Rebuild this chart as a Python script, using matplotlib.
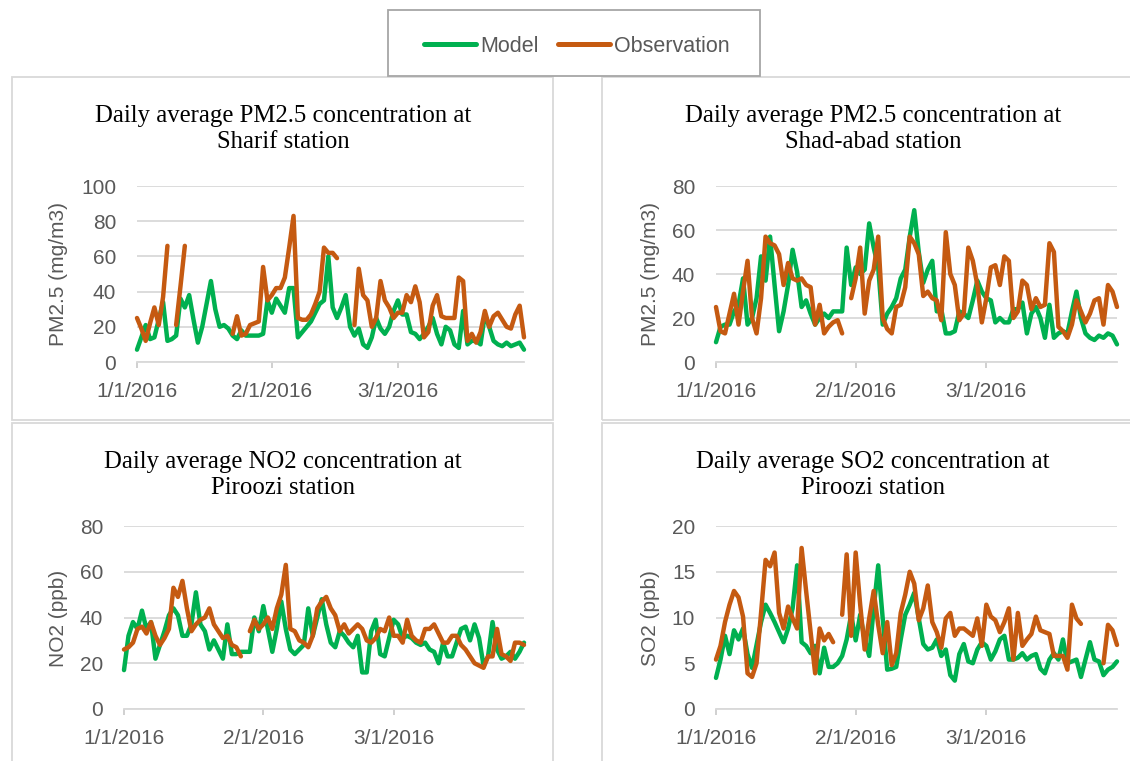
import numpy as np
import pandas as pd
import matplotlib
matplotlib.use("Agg")
import matplotlib.pyplot as plt
from matplotlib.patches import Rectangle
from matplotlib.lines import Line2D

nan = np.nan

# dias 1/1/2016 .. 3/30/2016
dates = pd.date_range("2016-01-01", periods=90, freq="D")
tick_dates = pd.to_datetime(["2016-01-01", "2016-02-01", "2016-03-01"])
tick_labels = ["1/1/2016", "2/1/2016", "3/1/2016"]

# PM2.5 Sharif
sharif_model = [7, 14, 21, 13, 14, 24, 34, 12, 13, 15,
                36, 31, 38, 24, 11, 20, 33, 46, 30, 20,
                21, 19, 15, 13, 18, 15, 15, 15, 15, 16,
                35, 28, 36, 32, 28, 42, 42, 14, 17, 20,
                23, 28, 33, 35, 60, 31, 25, 31, 38, 20,
                15, 19, 10, 8, 14, 25, 19, 16, 20, 29,
                35, 27, 27, 17, 16, 13, 16, 20, 25, 16,
                10, 20, 18, 10, 8, 29, 10, 12, 12, 10,
                27, 20, 12, 10, 9, 11, 9, 10, 11, 7]
sharif_obs = [25, 19, 12, 22, 31, 21, 37, 66, nan, 21,
              43, 66, nan, nan, nan, nan, nan, nan, nan, nan,
              nan, nan, 16, 26, 15, 16, 21, 22, 23, 54,
              35, 38, 42, 42, 48, 65, 83, 25, 24, 24,
              27, 33, 40, 65, 62, 62, 59, nan, nan, nan,
              21, 53, 38, 35, 20, 25, 46, 35, 31, 25,
              28, 28, 38, 34, 43, 34, 14, 17, 32, 38,
              26, 25, 25, 25, 48, 46, 12, 16, 11, 17,
              29, 20, 26, 28, 24, 20, 19, 27, 32, 14]

# PM2.5 Shad-abad
shad_model = [9, 16, 17, 17, 23, 26, 38, 17, 20, 29,
              48, 37, 57, 35, 14, 23, 35, 51, 41, 25,
              28, 22, 17, 20, 22, 20, 23, 23, 23, 52,
              35, 43, 40, 42, 63, 52, 43, 17, 22, 25,
              29, 38, 42, 57, 69, 50, 36, 42, 46, 23,
              24, 13, 13, 14, 23, 22, 20, 28, 37, 32,
              29, 28, 18, 20, 18, 18, 24, 24, 27, 13,
              22, 25, 20, 11, 26, 11, 13, 14, 13, 23,
              32, 20, 13, 11, 10, 12, 11, 13, 12, 8]
shad_obs = [25, 14, 13, 22, 31, 17, 32, 46, 20, 13,
            29, 57, 54, 53, 49, 35, 45, 38, 37, 38,
            35, 34, 17, 26, 13, 16, 18, 19, 13, nan,
            29, 38, 52, 22, 37, 42, 57, 20, 15, 13,
            25, 26, 34, 57, 54, 49, 30, 32, 29, 28,
            19, 59, 40, 35, 19, 22, 52, 46, 35, 18,
            29, 43, 44, 35, 48, 46, 20, 23, 37, 35,
            24, 29, 25, 26, 54, 50, 16, 14, 11, 17,
            28, 23, 18, 22, 28, 29, 17, 35, 32, 25]

# NO2 Piroozi
no2_model = [17, 32, 38, 35, 43, 35, 38, 22, 28, 34,
             41, 44, 41, 32, 32, 37, 51, 37, 34, 26,
             30, 26, 22, 37, 24, 24, 25, 25, 25, 40,
             34, 45, 35, 25, 35, 47, 35, 26, 24, 26,
             28, 44, 32, 40, 48, 37, 29, 27, 34, 32,
             29, 27, 32, 16, 16, 34, 39, 24, 23, 31,
             39, 37, 31, 32, 31, 29, 28, 29, 26, 25,
             20, 29, 23, 23, 29, 35, 36, 30, 37, 31,
             19, 23, 38, 26, 22, 23, 25, 22, 25, 29]
no2_obs = [26, 27, 29, 35, 36, 33, 38, 32, 28, 31,
           35, 53, 49, 56, 44, 34, 37, 39, 40, 44,
           37, 34, 31, 32, 28, 27, 23, nan, 34, 39,
           35, 37, 40, 35, 44, 50, 63, 35, 34, 30,
           29, 27, 32, 44, 47, 49, 44, 41, 34, 37,
           33, 35, 37, 35, 30, 29, 31, 35, 34, 40,
           32, 32, 29, 39, 32, 30, 29, 35, 35, 37,
           33, 29, 29, 32, 32, 28, 26, 23, 20, 19,
           18, 23, 23, 35, 24, 23, 21, 29, 29, 28]

# SO2 Piroozi
so2_model = [3.4, 5.4, 8.0, 6.0, 8.6, 7.6, 8.8, 6.0, 4.5, 7.0,
             9.5, 11.4, 10.5, 9.5, 8.4, 7.3, 8.8, 11.0, 15.7, 7.3,
             6.9, 6.1, 6.9, 3.9, 6.7, 4.6, 4.6, 5.0, 5.8, 7.6,
             10.3, 7.5, 10.3, 7.6, 5.8, 11.0, 15.7, 9.9, 4.3, 4.4,
             4.6, 7.6, 10.3, 11.4, 12.7, 9.9, 7.1, 6.5, 6.7, 7.6,
             5.8, 6.5, 3.7, 3.1, 6.0, 7.1, 5.2, 5.0, 6.5, 7.3,
             6.9, 5.4, 6.3, 7.6, 8.0, 5.4, 5.4, 5.6, 6.1, 5.4,
             5.8, 6.0, 4.4, 3.9, 5.4, 6.1, 5.4, 7.6, 5.0, 5.2,
             5.4, 3.5, 5.4, 7.3, 5.4, 5.2, 3.7, 4.3, 4.6, 5.2]
so2_obs = [5.4, 6.9, 9.5, 11.4, 12.9, 12.2, 10.1, 3.9, 3.5, 5.0,
           10.5, 16.3, 15.6, 17.1, 10.5, 8.8, 11.2, 9.9, 8.8, 17.6,
           12.9, 8.4, 3.9, 8.8, 7.5, 8.2, 7.3, nan, 10.3, 16.9,
           8.0, 17.1, 11.4, 6.5, 9.9, 12.9, 9.2, 6.1, 9.5, 4.8,
           6.1, 10.5, 12.5, 15.0, 13.7, 9.7, 11.0, 13.5, 9.5, 8.4,
           6.7, 9.9, 10.5, 8.0, 8.8, 8.8, 8.4, 8.0, 9.9, 6.9,
           11.4, 10.1, 9.7, 8.4, 9.5, 11.0, 5.4, 10.5, 6.9, 7.6,
           8.2, 10.1, 8.6, 8.4, 8.2, 5.8, 5.8, 5.8, 4.3, 11.4,
           9.9, 9.3, nan, nan, nan, nan, 5.0, 9.2, 8.6, 7.0]

titles = ["Daily average PM2.5 concentration at\nSharif station",
          "Daily average PM2.5 concentration at\nShad-abad station",
          "Daily average NO2 concentration at\nPiroozi station",
          "Daily average SO2 concentration at\nPiroozi station"]
ylabels = ["PM2.5 (mg/m3)", "PM2.5 (mg/m3)", "NO2 (ppb)", "SO2 (ppb)"]
ymax = [100, 80, 80, 20]
ystep = [20, 20, 20, 5]
models = [sharif_model, shad_model, no2_model, so2_model]
observations = [sharif_obs, shad_obs, no2_obs, so2_obs]

W, H = 1130, 761
GREEN = "#00B050"
ORANGE = "#C55A11"
GRAY_TXT = "#595959"
GRID = "#d9d9d9"
SANS = "Liberation Sans"
SERIF = "Liberation Serif"

# posiciones en pixeles: (izq, der, arriba, abajo) del area de trazado
plot_px = [(137, 524, 186, 362), (716, 1117, 186, 362),
           (124, 524, 526, 709), (716, 1117, 526, 709)]
# marcos de cada grafico
frame_px = [(12, 553, 77, 420), (602, 1145, 77, 420),
            (12, 553, 423, 775), (602, 1145, 423, 775)]
title_xy = [(283, 129), (873, 129), (283, 475), (873, 475)]
ylabel_xy = [(58, 274), (651, 274), (58, 618), (651, 618)]

fig = plt.figure(figsize=(W / 100, H / 100), dpi=100)

for i in range(4):
    l, r, t, b = frame_px[i]
    fig.add_artist(Rectangle((l / W, 1 - b / H), (r - l) / W, (b - t) / H,
                             transform=fig.transFigure, fill=False,
                             edgecolor=GRID, lw=1.3))

    l, r, t, b = plot_px[i]
    ax = fig.add_axes([l / W, 1 - b / H, (r - l) / W, (b - t) / H])
    ax.plot(dates, models[i], color=GREEN, lw=3.2, solid_joinstyle="round",
            solid_capstyle="round", clip_on=False, zorder=3)
    ax.plot(dates, observations[i], color=ORANGE, lw=3.2, solid_joinstyle="round",
            solid_capstyle="round", clip_on=False, zorder=4)

    ax.set_xlim(dates[0], dates[-1])
    ax.set_ylim(0, ymax[i])
    ax.set_yticks(np.arange(0, ymax[i] + 1, ystep[i]))
    ax.set_xticks(tick_dates)
    ax.set_xticklabels(tick_labels)
    for s in ["top", "right", "left"]:
        ax.spines[s].set_visible(False)
    ax.spines["bottom"].set_color(GRID)
    ax.spines["bottom"].set_linewidth(1.3)
    ax.grid(axis="y", color=GRID, lw=1.3)
    ax.set_axisbelow(True)
    ax.tick_params(axis="y", length=0, pad=15, labelsize=15, labelcolor=GRAY_TXT)
    ax.tick_params(axis="x", length=4.5, width=1.2, color="#c8c8c8", pad=10,
                   labelsize=15, labelcolor=GRAY_TXT)
    for lab in ax.get_xticklabels() + ax.get_yticklabels():
        lab.set_fontfamily(SANS)

    fig.text(title_xy[i][0] / W, 1 - title_xy[i][1] / H, titles[i],
             ha="center", va="center", family=SERIF, size=17.8, linespacing=1.25)
    fig.text(ylabel_xy[i][0] / W, 1 - ylabel_xy[i][1] / H, ylabels[i],
             ha="center", va="center", rotation=90, family=SANS, size=15,
             color=GRAY_TXT)

# leyenda comun
fig.add_artist(Rectangle((388 / W, 1 - 76 / H), (760 - 388) / W, 66 / H,
                         transform=fig.transFigure, fill=False,
                         edgecolor="#a6a6a6", lw=1.3))
handles = [Line2D([], [], color=GREEN, lw=3.6, solid_capstyle="round"),
           Line2D([], [], color=ORANGE, lw=3.6, solid_capstyle="round")]
fig.legend(handles, ["Model", "Observation"], loc="center",
           bbox_to_anchor=(577 / W, 1 - 46 / H), ncol=2, frameon=False,
           handlelength=2.4, handletextpad=0.2, columnspacing=0.9,
           prop={"family": SANS, "size": 15.5}, labelcolor=GRAY_TXT)

fig.savefig("out.png", dpi=100)
